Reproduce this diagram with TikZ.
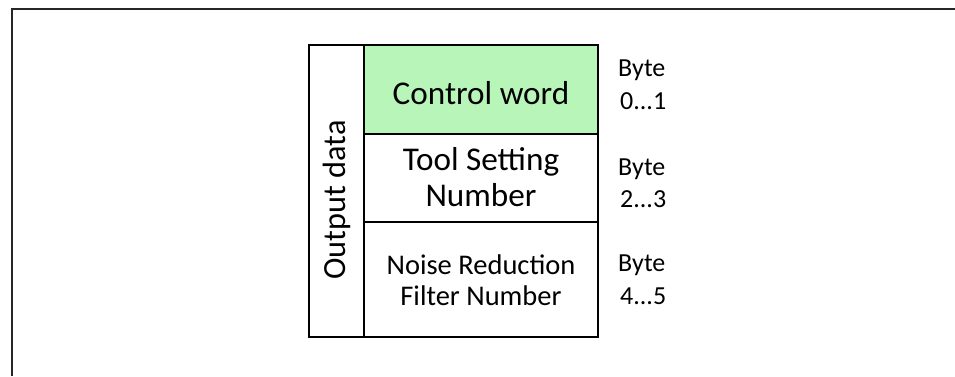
\documentclass[tikz,border=0pt]{standalone}
\usepackage{fontspec}
\setmainfont{Carlito}
\definecolor{cwgreen}{RGB}{184,245,184}
\begin{document}
\begin{tikzpicture}[x=1pt,y=-1pt,
  cellline/.style={draw=black, line width=2pt},
  lbl/.style={anchor=base, inner sep=0pt, font=\fontsize{33.2}{36}\selectfont},
  small/.style={anchor=base, inner sep=0pt, font=\fontsize{28.5}{31}\selectfont},
  byte/.style={anchor=base west, inner sep=0pt, font=\fontsize{26}{29}\selectfont}]
\useasboundingbox (0,0) rectangle (955,376);
\draw[line width=1.5pt, black!85] (12,376) -- (12,9) -- (955,9);
% cells
\fill[cwgreen] (364,45) rectangle (598,134);
\draw[cellline] (309,45) rectangle (364,337);
\draw[cellline] (364,45) rectangle (598,134);
\draw[cellline] (364,134) rectangle (598,222);
\draw[cellline] (364,222) rectangle (598,337);
% labels
\node[rotate=90, inner sep=0pt, font=\fontsize{32.3}{36}\selectfont] (od) at (337,200) {Output data};
\node[lbl] (cw) at (481,104) {Control word};
\node[lbl] (ts1) at (481,170) {Tool Setting};
\node[lbl] (ts2) at (481,206) {Number};
\node[small] (nr1) at (481,274) {Noise Reduction};
\node[small] (nr2) at (481,305) {Filter Number};
\node[byte] (b1) at (618,76) {Byte};
\node[byte] (b1n) at (620,109) {0...1};
\node[byte] (b2) at (618,175) {Byte};
\node[byte] (b2n) at (620,207) {2...3};
\node[byte] (b3) at (618,271) {Byte};
\node[byte] (b3n) at (620,304) {4...5};
\end{tikzpicture}
\end{document}
